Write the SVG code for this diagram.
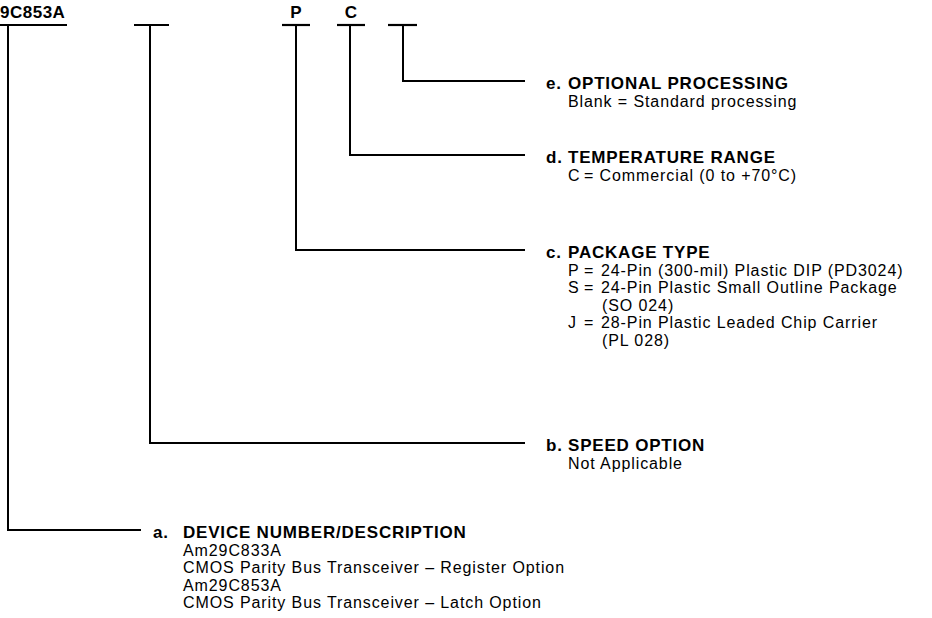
<svg xmlns="http://www.w3.org/2000/svg" width="932" height="618" viewBox="0 0 932 618">
<style>
  text { font-family: "Liberation Sans", Arial, Helvetica, sans-serif; font-size: 16px; letter-spacing: 0.9px; fill: #000; }
  .b { font-weight: bold; font-size: 17px; letter-spacing: 0.8px; }
  .ln { stroke: #000; stroke-width: 2; fill: none; }
  .bar { stroke: #000; stroke-width: 2.2; }
</style>
<rect width="932" height="618" fill="#fff"/>

<g id="fields">
  <g id="field-device">
    <text class="b" x="0" y="18" style="letter-spacing:0.5px">9C853A</text>
    <line class="bar" x1="0" y1="25" x2="67" y2="25"/>
  </g>
  <g id="field-speed">
    <line class="bar" x1="134" y1="25" x2="169" y2="25"/>
  </g>
  <g id="field-package">
    <text class="b" x="296" y="18" text-anchor="middle" style="letter-spacing:0">P</text>
    <line class="bar" x1="282" y1="25" x2="310" y2="25"/>
  </g>
  <g id="field-temp">
    <text class="b" x="351" y="18" text-anchor="middle" style="letter-spacing:0">C</text>
    <line class="bar" x1="337" y1="25" x2="365" y2="25"/>
  </g>
  <g id="field-processing">
    <line class="bar" x1="388" y1="25" x2="417" y2="25"/>
  </g>
</g>

<g id="connectors">
  <path class="ln" d="M8,25 V530 H141"/>
  <path class="ln" d="M150,25 V443 H525"/>
  <path class="ln" d="M296,25 V250 H525"/>
  <path class="ln" d="M350,25 V155 H525"/>
  <path class="ln" d="M403,25 V81 H525" stroke-width="2.5"/>
</g>

<g id="node-e">
  <text class="b" x="546" y="89">e.</text>
  <text class="b" x="568" y="89">OPTIONAL PROCESSING</text>
  <text x="568" y="106.5">Blank = Standard processing</text>
</g>

<g id="node-d">
  <text class="b" x="546" y="163">d.</text>
  <text class="b" x="568" y="163">TEMPERATURE RANGE</text>
  <text x="568" y="180.5">C</text>
  <text x="584" y="180.5">= Commercial (0 to +70°C)</text>
</g>

<g id="node-c">
  <text class="b" x="546" y="258">c.</text>
  <text class="b" x="568" y="258">PACKAGE TYPE</text>
  <text x="568" y="275.5">P</text>
  <text x="584" y="275.5">=</text>
  <text x="601" y="275.5">24-Pin (300-mil) Plastic DIP (PD3024)</text>
  <text x="568" y="293">S</text>
  <text x="584" y="293">=</text>
  <text x="601" y="293">24-Pin Plastic Small Outline Package</text>
  <text x="602" y="310.5">(SO 024)</text>
  <text x="568" y="328">J</text>
  <text x="584" y="328">=</text>
  <text x="601" y="328">28-Pin Plastic Leaded Chip Carrier</text>
  <text x="602" y="345.5">(PL 028)</text>
</g>

<g id="node-b">
  <text class="b" x="546" y="451">b.</text>
  <text class="b" x="568" y="451">SPEED OPTION</text>
  <text x="568" y="468.5">Not Applicable</text>
</g>

<g id="node-a">
  <text class="b" x="153" y="538">a.</text>
  <text class="b" x="183" y="538">DEVICE NUMBER/DESCRIPTION</text>
  <text x="183" y="555.5">Am29C833A</text>
  <text x="183" y="573">CMOS Parity Bus Transceiver – Register Option</text>
  <text x="183" y="590.5">Am29C853A</text>
  <text x="183" y="608">CMOS Parity Bus Transceiver – Latch Option</text>
</g>
</svg>
